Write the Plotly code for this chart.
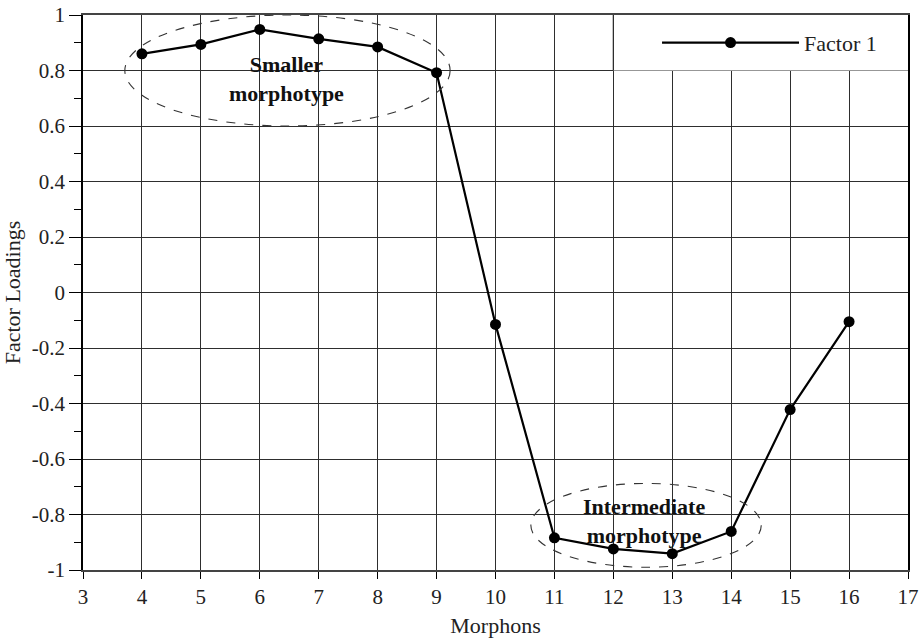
import plotly.graph_objects as go

# Factor 1 loadings per morphon
morphons = [4, 5, 6, 7, 8, 9, 10, 11, 12, 13, 14, 15, 16]
factor1 = [0.86, 0.894, 0.948, 0.914, 0.885, 0.792, -0.115, -0.884, -0.924, -0.941, -0.861, -0.422, -0.105]

x_ticks = list(range(3, 18))
y_ticks = [round(-1 + 0.2 * i, 1) for i in range(11)]
y_tick_text = ["1" if v == 1 else "0" if v == 0 else "-1" if v == -1 else f"{v:g}" for v in y_ticks]

# morphotype groups: (label, x-range, y-range, label position)
groups = [
    ("<b>Smaller<br>morphotype</b>", (3.71, 9.23), (0.6, 1.0), (6.45, 0.77)),
    ("<b>Intermediate<br>morphotype</b>", (10.6, 14.51), (-0.99, -0.688), (12.52, -0.825)),
]

FONT = "Liberation Serif, Times New Roman, serif"
GRID = "#2e2e2e"

fig = go.Figure()
fig.add_trace(go.Scatter(
    x=morphons, y=factor1, mode="lines+markers", name="Factor 1",
    line=dict(color="black", width=2.2),
    marker=dict(color="black", size=11),
))

shapes = [
    # blank panel behind the legend
    dict(type="rect", xref="x", yref="y", x0=12, x1=17, y0=0.8, y1=1.0,
         fillcolor="white", line=dict(width=0), layer="between"),
    dict(type="line", xref="x", yref="y", x0=12, x1=12, y0=0.8, y1=1.0,
         line=dict(color=GRID, width=1.3), layer="between"),
]
annotations = []
for label, (gx0, gx1), (gy0, gy1), (tx, ty) in groups:
    shapes.append(dict(type="circle", xref="x", yref="y", x0=gx0, x1=gx1, y0=gy0, y1=gy1,
                       line=dict(color="#333333", width=1.1, dash="dash"), layer="above"))
    annotations.append(dict(x=tx, y=ty, xref="x", yref="y", text=label, showarrow=False,
                            font=dict(family=FONT, size=22, color="#111111"), align="center"))

fig.update_layout(
    width=919, height=638,
    margin=dict(l=83, r=11, t=15, b=68),
    paper_bgcolor="white", plot_bgcolor="white",
    font=dict(family=FONT, size=21, color="#222222"),
    shapes=shapes, annotations=annotations,
    showlegend=True,
    legend=dict(x=0.6958, y=0.95, xanchor="left", yanchor="middle",
                bgcolor="rgba(0,0,0,0)", borderwidth=0,
                font=dict(family=FONT, size=22, color="#222222"),
                itemwidth=137),
)
fig.update_xaxes(
    range=[3, 17], tickvals=x_ticks, ticks="outside", ticklen=7, tickcolor="black",
    showgrid=True, gridcolor=GRID, gridwidth=1.3, automargin=False,
    showline=True, linecolor="#444444", linewidth=1.5, mirror=True, zeroline=False,
    title=dict(text="Morphons", font=dict(family=FONT, size=22)),
)
fig.update_yaxes(
    range=[-1, 1], tickvals=y_ticks, ticktext=y_tick_text, ticks="outside", ticklen=12,
    tickcolor="black", showgrid=True, gridcolor=GRID, gridwidth=1.3, automargin=False,
    showline=True, linecolor="black", linewidth=1.5, mirror=True, zeroline=False,
    minor=dict(dtick=0.1, tick0=0, ticks="outside", ticklen=7, tickcolor="black", showgrid=False),
    title=dict(text="Factor Loadings", font=dict(family=FONT, size=22)),
)

fig.write_html("out.html")
